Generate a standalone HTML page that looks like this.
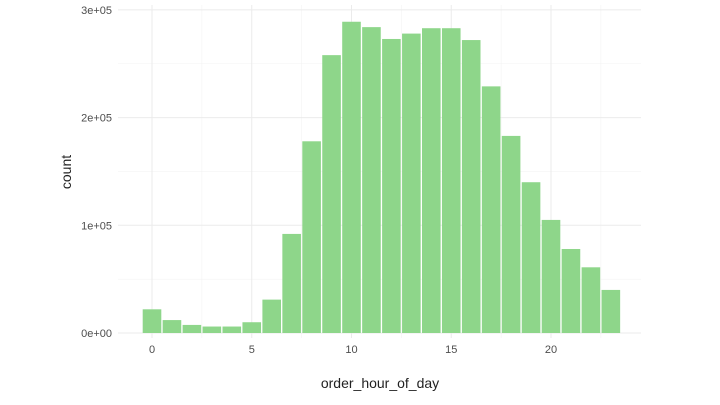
<!DOCTYPE html>
<html><head><meta charset="utf-8"><style>
body{margin:0;background:#fff;font-family:"Liberation Sans",sans-serif}
svg{display:block}
</style></head><body>
<svg id="chart" width="720" height="405"></svg>
<script>
const hours=[0,1,2,3,4,5,6,7,8,9,10,11,12,13,14,15,16,17,18,19,20,21,22,23];
const counts=[22000,12000,7500,6000,6000,10000,31000,92000,178000,258000,289000,284000,273000,278000,283000,283000,272000,229000,183000,140000,105000,78000,61000,40000];
const yTicks=[0,100000,200000,300000];
const yTickLabels=["0e+00","1e+05","2e+05","3e+05"];
const xTicks=[0,5,10,15,20];
const ns="http://www.w3.org/2000/svg";
const svg=document.getElementById('chart');
const L=118,R=641,T=5,B=338;
const x=h=>152+(h)*19.95;
const y=v=>333-v/100000*107.7;
function el(t,a){const e=document.createElementNS(ns,t);for(const k in a)e.setAttribute(k,a[k]);svg.appendChild(e);return e;}
// minor grid
for(let i=0;i<yTicks.length;i++){const v=yTicks[i]+50000;if(y(v)>T){const g=el('line',{x1:L,x2:R,y1:y(v),y2:y(v),stroke:'#f3f3f3','stroke-width':0.6});

}}
for(let h=-2.5;h<=25;h+=5){if(x(h)>L&&x(h)<R){const g=el('line',{x1:x(h),x2:x(h),y1:T,y2:B,stroke:'#f3f3f3','stroke-width':0.6});

}}
yTicks.forEach((v,i)=>{const g=el('line',{x1:L,x2:R,y1:y(v),y2:y(v),stroke:'#ebebeb','stroke-width':1});


const t=el('text',{x:112,y:y(v)+4,'text-anchor':'end','font-size':11,fill:'#4d4d4d'});t.textContent=yTickLabels[i];

});
xTicks.forEach(h=>{const g=el('line',{x1:x(h),x2:x(h),y1:T,y2:B,stroke:'#ebebeb','stroke-width':1});


const t=el('text',{x:x(h),y:353,'text-anchor':'middle','font-size':11,fill:'#4d4d4d'});t.textContent=h;

});
hours.forEach((h,i)=>{const b=el('rect',{x:x(h)-9.3,width:18.6,y:y(counts[i]),height:y(0)-y(counts[i]),fill:'#8ed68a'});

});
const xt=el('text',{x:380,y:388,'text-anchor':'middle','font-size':14,fill:'#222'});xt.textContent='order_hour_of_day';


const yt=el('text',{x:0,y:0,'text-anchor':'middle','font-size':14,fill:'#222',transform:'translate(71,172) rotate(-90)'});yt.textContent='count';


</script>
</body></html>
